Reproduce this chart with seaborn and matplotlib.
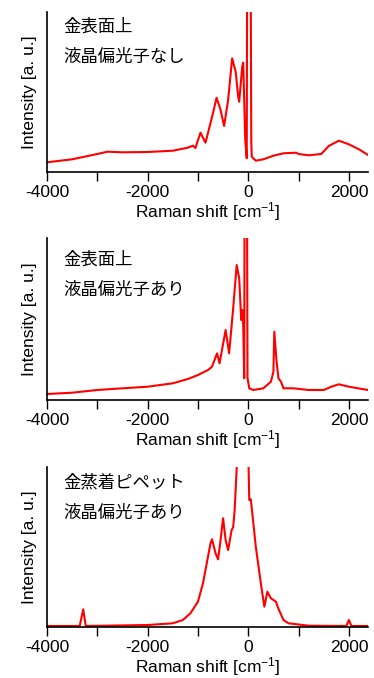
import numpy as np
import pandas as pd
import matplotlib
matplotlib.use("Agg")
import matplotlib.pyplot as plt
import seaborn as sns
from matplotlib.ticker import MultipleLocator

sns.set_style("ticks")
plt.rcParams['font.family'] = ['Liberation Sans', 'Noto Sans CJK JP', 'DejaVu Sans']
plt.rcParams['axes.unicode_minus'] = False
plt.rcParams['text.color'] = 'black'
plt.rcParams['axes.labelcolor'] = 'black'
plt.rcParams['xtick.color'] = 'black'
plt.rcParams['mathtext.default'] = 'regular'

# panel 1: gold surface, no LC polarizer (intensity in arbitrary units)
shift_1 = [-4000, -3500, -3000, -2800, -2500, -2000, -1500, -1200, -1100, -1050,
           -950, -850, -700, -630, -550, -480, -400, -320, -250, -200, -180,
           -120, -100, -60, -30, -15, 35, 60, 70, 150, 300, 500, 700, 950, 1000,
           1200, 1450, 1600, 1800, 2000, 2200, 2380]
inten_1 = [9.7, 12.7, 18, 20.3, 19.7, 20, 21.3, 24.3, 26.3, 24,
           39.3, 29.3, 59, 74.3, 62, 46, 72, 113.7, 100.3, 75.3, 70.3,
           105.3, 109.3, 32, 13.7, 400, 400, 30, 15.3, 11.3, 12.7, 16.3, 18.7, 19.3, 18,
           16.7, 18, 26, 31.3, 27.7, 22.7, 17]

# panel 2: gold surface, with LC polarizer
shift_2 = [-4000, -3500, -3000, -2500, -2000, -1500, -1200, -1000, -800, -720,
           -620, -570, -450, -380, -300, -230, -180, -140, -120, -100, -80,
           -65, -35, -15, 20, 100, 300, 450, 500, 518, 560, 600, 650, 700, 900,
           1200, 1500, 1650, 1800, 2000, 2380]
inten_2 = [6, 7.3, 10, 11.7, 13.3, 16.7, 21, 25, 30, 33.3,
           46.7, 36.7, 70, 46.7, 91.7, 135, 121.7, 80, 90, 75, 21.7,
           400, 400, 22, 11.7, 10, 11.7, 18.3, 28.3, 68.3, 40, 21.7, 18.3, 11.7, 11.7,
           10, 10, 13.3, 15.7, 13.3, 10]

# panel 3: gold-coated pipette, with LC polarizer
shift_3 = [-4000, -3350, -3280, -3230, -2000, -1500, -1300, -1150, -1000, -900,
           -800, -750, -720, -650, -600, -550, -520, -500, -450, -400, -330,
           -300, -270, -230, -120, -10, 20, 50, 70, 150, 250, 320, 380, 450,
           550, 600, 700, 800, 1200, 1950, 2000, 2050, 2380]
inten_3 = [1, 1, 17.7, 1, 2, 3.7, 7, 13.7, 25.3, 43.7,
           70.3, 83.7, 87.7, 73.7, 67.7, 87, 100.3, 108.7, 87, 77, 97,
           99.7, 117, 158.7, 300, 200, 127, 127.7, 118.7, 80.3, 43.7, 20.3, 35.3, 28.7,
           25.3, 18.3, 7, 3.7, 1.3, 1, 7, 1, 1]

panels = [
    (shift_1, inten_1, ['金表面上', '液晶偏光子なし'], [0.906, 0.722], 160),
    (shift_2, inten_2, ['金表面上', '液晶偏光子あり'], [0.867, 0.678], 162),
    (shift_3, inten_3, ['金蒸着ピペット', '液晶偏光子あり'], [0.903, 0.71], 160),
]
# axes boxes [left, bottom, width, height] in figure fraction
boxes = [
    [47 / 374, 1 - 172 / 678, 321 / 374, 160 / 678],
    [47 / 374, 1 - 400 / 678, 321 / 374, 162 / 678],
    [47 / 374, 1 - 627 / 678, 321 / 374, 160 / 678],
]

fig = plt.figure(figsize=(3.74, 6.78), dpi=100)

for (sx, iy, labels, ypos, ymax), box in zip(panels, boxes):
    ax = fig.add_axes(box)
    df = pd.DataFrame({'shift': sx, 'intensity': iy})
    sns.lineplot(data=df, x='shift', y='intensity', ax=ax, color='#ff0000',
                 linewidth=1.5, sort=False, estimator=None)
    ax.set_xlim(-4000, 2380)
    ax.set_ylim(0, ymax)
    ax.set_yticks([])
    ax.xaxis.set_major_locator(MultipleLocator(2000))
    ax.xaxis.set_minor_locator(MultipleLocator(1000))
    ax.tick_params(axis='x', which='both', direction='out', length=6.5, width=1.0,
                   labelsize=12.5, pad=3, color='black')
    sns.despine(ax=ax)
    for s in ['left', 'bottom']:
        ax.spines[s].set_linewidth(1.2)
        ax.spines[s].set_color('black')
    ax.set_xlabel('Raman shift [cm$^{-1}$]', fontsize=12.5, labelpad=0)
    ax.set_ylabel('Intensity [a. u.]', fontsize=12.5, labelpad=7)
    for txt, yp in zip(labels, ypos):
        ax.text(0.05, yp, txt, transform=ax.transAxes, fontsize=12.5, color='black',
                va='center', ha='left', family=['Noto Sans CJK JP', 'DejaVu Sans'])

fig.savefig('out.png', dpi=100)
